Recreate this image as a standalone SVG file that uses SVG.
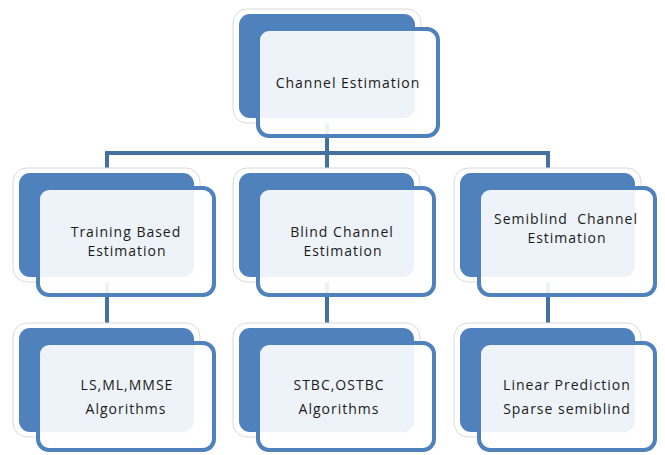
<svg xmlns="http://www.w3.org/2000/svg" width="665" height="455" viewBox="0 0 665 455">
<defs>
<style>
.halo{fill:#ffffff;stroke:#d9d9d9;stroke-width:1}
.back{fill:#4f81bd}
.front{fill:#ffffff;fill-opacity:0.9;stroke:#4f81bd;stroke-width:4}
.conn{fill:none;stroke:#44719f;stroke-width:4;stroke-linejoin:miter}
text{font-family:"Open Sans","Liberation Sans",sans-serif;font-size:14px;fill:#1a1a1a;text-anchor:middle;letter-spacing:1px}
</style>
</defs>
<rect width="665" height="455" fill="#ffffff"/>
<g id="connectors">
<path class="conn" d="M327 120 V153 M107 175 V153 H548 V175 M327 153 V175"/>
<path class="conn" d="M107 280 V330 M327 280 V330 M548 280 V330"/>
</g>
<g id="node-channel-estimation">
<rect class="halo" x="233" y="9" width="188" height="114" rx="14"/>
<rect class="back" x="239" y="14" width="176" height="104" rx="11"/>
<rect class="front" x="258" y="29" width="180" height="107" rx="11"/>
<text x="348" y="88">Channel Estimation</text>
</g>
<g id="node-training">
<rect class="halo" x="13" y="168" width="187" height="114" rx="14"/>
<rect class="back" x="19" y="173" width="175" height="104" rx="11"/>
<rect class="front" x="38" y="188" width="176" height="107" rx="11"/>
<text x="126" y="237">Training Based</text>
<text x="127" y="256">Estimation</text>
</g>
<g id="node-blind">
<rect class="halo" x="233" y="168" width="187" height="114" rx="14"/>
<rect class="back" x="239" y="173" width="175" height="104" rx="11"/>
<rect class="front" x="258" y="188" width="176" height="107" rx="11"/>
<text x="342" y="237">Blind Channel</text>
<text x="343" y="256">Estimation</text>
</g>
<g id="node-semiblind">
<rect class="halo" x="454" y="168" width="187" height="114" rx="14"/>
<rect class="back" x="460" y="173" width="175" height="104" rx="11"/>
<rect class="front" x="479" y="188" width="176" height="107" rx="11"/>
<text x="566" y="224">Semiblind&#160; Channel</text>
<text x="567" y="243">Estimation</text>
</g>
<g id="node-ls-ml-mmse">
<rect class="halo" x="13" y="323" width="187" height="114" rx="14"/>
<rect class="back" x="19" y="328" width="175" height="104" rx="11"/>
<rect class="front" x="38" y="343" width="176" height="107" rx="11"/>
<text x="127" y="390">LS,ML,MMSE</text>
<text x="126" y="414">Algorithms</text>
</g>
<g id="node-stbc">
<rect class="halo" x="233" y="323" width="187" height="114" rx="14"/>
<rect class="back" x="239" y="328" width="175" height="104" rx="11"/>
<rect class="front" x="258" y="343" width="176" height="107" rx="11"/>
<text x="339" y="390">STBC,OSTBC</text>
<text x="339" y="414">Algorithms</text>
</g>
<g id="node-linear">
<rect class="halo" x="454" y="323" width="187" height="114" rx="14"/>
<rect class="back" x="460" y="328" width="175" height="104" rx="11"/>
<rect class="front" x="479" y="343" width="176" height="107" rx="11"/>
<text x="567" y="390">Linear Prediction</text>
<text x="567" y="414">Sparse semiblind</text>
</g>
</svg>
